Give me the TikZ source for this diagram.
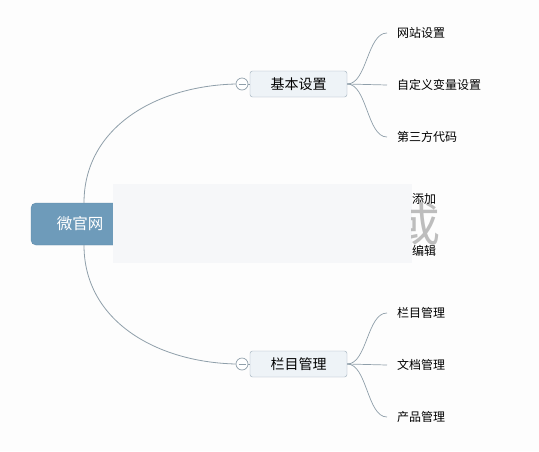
\documentclass[tikz,border=0pt]{standalone}
\usepackage{fontspec}
\setmainfont{Noto Sans CJK SC}
\definecolor{bgc}{HTML}{FDFDFD}
\definecolor{mainfill}{HTML}{6E9BBA}
\definecolor{maindraw}{HTML}{5E8AAA}
\definecolor{subfill}{HTML}{EEF3F7}
\definecolor{subdraw}{HTML}{9AABB8}
\definecolor{linec}{HTML}{8F9FAA}
\definecolor{overc}{HTML}{F6F7F9}
\definecolor{bigc}{HTML}{BDBDBD}
\tikzset{
  mainbox/.style={draw=maindraw, fill=mainfill, rounded corners=5pt, minimum width=106pt, minimum height=42pt, inner sep=0pt, text=white, font=\fontsize{15.5}{17}\selectfont},
  subbox/.style={draw=subdraw, fill=subfill, rounded corners=2.5pt, minimum width=97pt, minimum height=26pt, inner sep=0pt, font=\fontsize{14}{16}\selectfont},
  collapse/.style={circle, draw=linec, fill=white, minimum size=12pt, inner sep=0pt, line width=0.7pt},
  leaf/.style={anchor=west, inner xsep=10pt, inner ysep=0pt, font=\fontsize{12}{14}\selectfont},
  branch/.style={draw=linec, line width=0.8pt},
  twig/.style={draw=linec, line width=0.7pt},
  overtext/.style={font=\fontsize{12}{14}\selectfont, anchor=west, inner sep=0pt},
}
\begin{document}
\begin{tikzpicture}[x=1pt,y=-1pt]
\fill[bgc] (0,0) rectangle (539,451);
\useasboundingbox (0,0) rectangle (539,451);

% main node
\node[mainbox] (main) at (84,224) {\hspace*{-8pt}微官网};

% sub nodes
\node[subbox] (b1) at (298.5,84) {基本设置};
\node[subbox] (b2) at (298.5,364) {栏目管理};
\node[collapse] (c1) at (242,84) {};
\node[collapse] (c2) at (242,364) {};
\draw[linec, line width=0.7pt] ([xshift=-3.5pt]c1.center) -- ([xshift=3.5pt]c1.center);
\draw[linec, line width=0.7pt] ([xshift=-3.5pt]c2.center) -- ([xshift=3.5pt]c2.center);
\draw[branch] (c1.east) -- (b1.west);
\draw[branch] (c2.east) -- (b2.west);

% main arcs
\draw[branch] (main.north) .. controls (84,128) and (155,86) .. (c1.west);
\draw[branch] (main.south) .. controls (84,320) and (155,362) .. (c2.west);

% leaves
\node[leaf] (l1) at (387,33) {网站设置};
\node[leaf] (l2) at (387,85) {自定义变量设置};
\node[leaf] (l3) at (387,137) {第三方代码};
\node[leaf] (l4) at (387,313) {栏目管理};
\node[leaf] (l5) at (387,365) {文档管理};
\node[leaf] (l6) at (387,417) {产品管理};

\draw[twig] (b1.east) .. controls +(20,0) and +(-20,0) .. (l1.west);
\draw[twig] (b1.east) .. controls +(20,0) and +(-20,0) .. (l2.west);
\draw[twig] (b1.east) .. controls +(20,0) and +(-20,0) .. (l3.west);
\draw[twig] (b2.east) .. controls +(20,0) and +(-20,0) .. (l4.west);
\draw[twig] (b2.east) .. controls +(20,0) and +(-20,0) .. (l5.west);
\draw[twig] (b2.east) .. controls +(20,0) and +(-20,0) .. (l6.west);

% overlay panel
\fill[overc] (113,184) rectangle (412,263);
\begin{scope}
\clip (411,190) rectangle (470,258);
\node[text=bigc, font=\fontsize{46}{50}\selectfont, inner sep=0pt] (big) at (417,224) {或};
\end{scope}
\node[overtext] (t1) at (412,199) {添加};
\node[overtext] (t2) at (412,251) {编辑};
\end{tikzpicture}
\end{document}
